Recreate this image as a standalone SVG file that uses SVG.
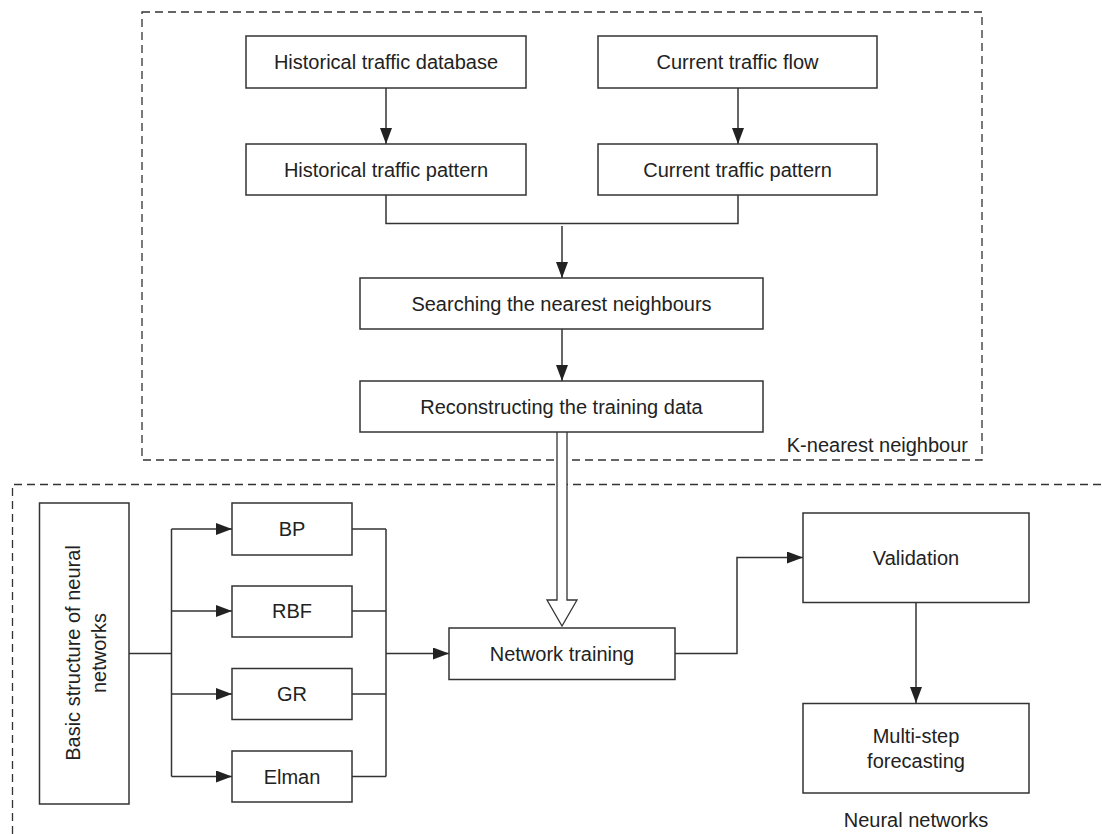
<svg xmlns="http://www.w3.org/2000/svg" width="1102" height="834" viewBox="0 0 1102 834">
<style>
.box{fill:#fff;stroke:#333;stroke-width:1.5}
.dash{fill:none;stroke:#333;stroke-width:1.3;stroke-dasharray:8 5}
.ln{fill:none;stroke:#333;stroke-width:1.5}
.arr{marker-end:url(#ah)}
text{font-family:"Liberation Sans",Arial,sans-serif;font-size:20px;fill:#222;text-anchor:middle}
</style>
<defs>
<marker id="ah" markerUnits="userSpaceOnUse" markerWidth="17" markerHeight="12" refX="16" refY="6" orient="auto">
<path d="M0,0 L16,6 L0,12 z" fill="#222"/>
</marker>
</defs>
<rect width="1102" height="834" fill="#fff"/>
<g id="knn-group">
<rect class="dash" x="142" y="12" width="840" height="448"/>
<text x="968" y="452" style="text-anchor:end">K-nearest neighbour</text>
</g>
<g id="nn-group">
<path class="dash" d="M12.5,834 V484.5 H1102"/>
<text x="916" y="827">Neural networks</text>
</g>
<g id="connectors">
<line class="ln arr" x1="386" y1="88" x2="386" y2="144"/>
<line class="ln arr" x1="738" y1="88" x2="738" y2="144"/>
<path class="ln" d="M386,195 V223.5 H738 V195"/>
<line class="ln arr" x1="562" y1="226" x2="562" y2="278"/>
<line class="ln arr" x1="562" y1="329" x2="562" y2="381"/>
<path d="M557,432 V600 H547 L562,626 L577,600 H567 V432" fill="#fff" stroke="#333" stroke-width="1.3"/>
<path class="ln" d="M129,653.5 H171.5"/>
<path class="ln" d="M171.5,529 V776.5"/>
<line class="ln arr" x1="171.5" y1="529" x2="232" y2="529"/>
<line class="ln arr" x1="171.5" y1="611" x2="232" y2="611"/>
<line class="ln arr" x1="171.5" y1="694" x2="232" y2="694"/>
<line class="ln arr" x1="171.5" y1="776.5" x2="232" y2="776.5"/>
<path class="ln" d="M352,529 H386 M352,611 H386 M352,694 H386 M352,776.5 H386 M386,529 V776.5"/>
<line class="ln arr" x1="386" y1="653.5" x2="449" y2="653.5"/>
<path class="ln arr" d="M675,653.5 H737 V557.5 H803"/>
<line class="ln arr" x1="916" y1="602" x2="916" y2="703"/>
</g>
<g id="historical-db"><rect class="box" x="246" y="36" width="280" height="52"/><text x="386" y="69">Historical traffic database</text></g>
<g id="current-flow"><rect class="box" x="598" y="36" width="279" height="52"/><text x="737.5" y="69">Current traffic flow</text></g>
<g id="historical-pattern"><rect class="box" x="246" y="144" width="280" height="51"/><text x="386" y="177">Historical traffic pattern</text></g>
<g id="current-pattern"><rect class="box" x="598" y="144" width="279" height="51"/><text x="737.5" y="177">Current traffic pattern</text></g>
<g id="searching"><rect class="box" x="360" y="278" width="403" height="51"/><text x="561.5" y="311">Searching the nearest neighbours</text></g>
<g id="reconstructing"><rect class="box" x="360" y="381" width="403" height="51"/><text x="561.5" y="414">Reconstructing the training data</text></g>
<g id="basic"><rect class="box" x="39.5" y="503" width="89.5" height="301"/>
<text transform="translate(80,653) rotate(-90)">Basic structure of neural</text>
<text transform="translate(106,653) rotate(-90)">networks</text></g>
<g id="bp"><rect class="box" x="232" y="503" width="120" height="52"/><text x="292" y="536">BP</text></g>
<g id="rbf"><rect class="box" x="232" y="586" width="120" height="51"/><text x="292" y="618">RBF</text></g>
<g id="gr"><rect class="box" x="232" y="668.5" width="120" height="51"/><text x="292" y="701">GR</text></g>
<g id="elman"><rect class="box" x="232" y="751" width="120" height="51"/><text x="292" y="783.5">Elman</text></g>
<g id="network-training"><rect class="box" x="449" y="628" width="226" height="51.5"/><text x="562" y="661">Network training</text></g>
<g id="validation"><rect class="box" x="803" y="513" width="226" height="89.5"/><text x="916" y="565">Validation</text></g>
<g id="multistep"><rect class="box" x="803" y="703.5" width="226" height="89.5"/><text x="916" y="743">Multi-step</text><text x="916" y="768">forecasting</text></g>
</svg>
